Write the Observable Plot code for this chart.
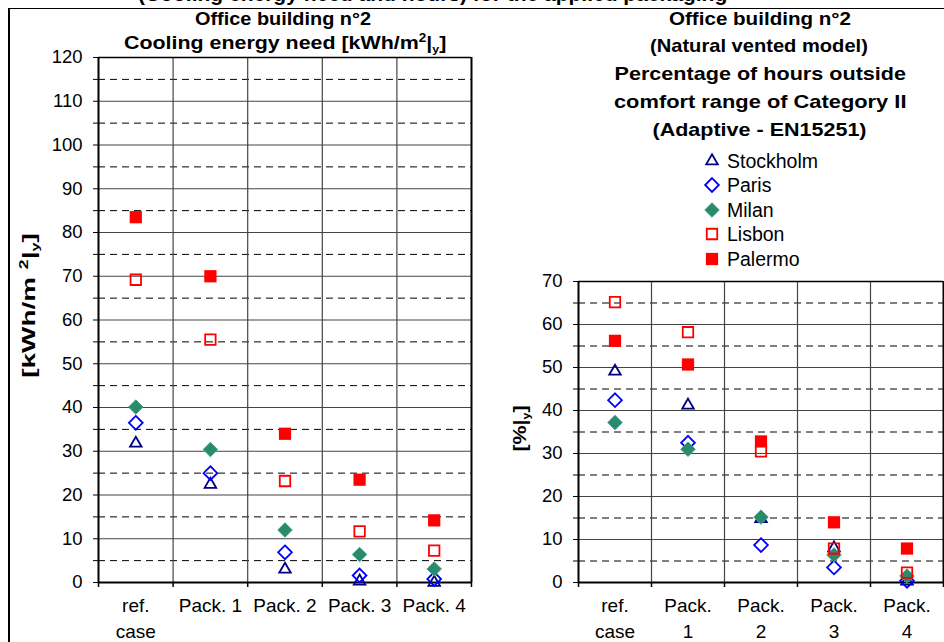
<!DOCTYPE html>
<html><head><meta charset="utf-8">
<script src="https://cdn.jsdelivr.net/npm/d3@7"></script>
<script src="https://cdn.jsdelivr.net/npm/@observablehq/plot@0.6"></script>
<style>
body{margin:0;background:#fff;font-family:"Liberation Sans",Arial,sans-serif;}
#wrap{position:relative;width:944px;height:642px;overflow:hidden;background:#fff;}
.c{position:absolute;white-space:nowrap;line-height:1;color:#000;}
.b{font-weight:bold;font-size:19px;}
sup{font-size:12px;vertical-align:7px;line-height:0;}
sub{font-size:11px;vertical-align:-4px;line-height:0;}
.leg{position:absolute;left:705px;top:0;font-size:19.5px;}
.leg div{position:absolute;height:20px;white-space:nowrap;}
.leg svg{position:absolute;left:0;top:0;overflow:visible;}
.leg span{position:absolute;left:22px;top:0;line-height:20px;}
.clip{position:absolute;left:0;top:0;width:944px;height:8px;overflow:hidden;}
</style></head><body><div id="wrap"></div><script>
// ---- data ----
const categoriesLeft = ["ref.\ncase", "Pack. 1", "Pack. 2", "Pack. 3", "Pack. 4"];
const categoriesRight = ["ref.\ncase", "Pack.\n1", "Pack.\n2", "Pack.\n3", "Pack.\n4"];
const cities = ["Stockholm", "Paris", "Milan", "Lisbon", "Palermo"];
// Cooling energy need [kWh/m2 y]
const coolingStockholm = [31.8, 22.4, 3.0, 0.3, 0.0];
const coolingParis = [36.5, 25.0, 6.9, 1.6, 0.8];
const coolingMilan = [40.1, 30.4, 12.0, 6.4, 3.1];
const coolingLisbon = [69.2, 55.5, 23.2, 11.7, 7.3];
const coolingPalermo = [83.5, 70.0, 34.0, 23.5, 14.2];
// Percentage of hours outside comfort range [%]
const hoursStockholm = [49.1, 41.2, 14.8, 8.0, 0.3];
const hoursParis = [42.4, 32.5, 8.7, 3.5, 0.4];
const hoursMilan = [37.2, 31.0, 15.2, 6.4, 1.5];
const hoursLisbon = [65.2, 58.2, 30.5, 7.9, 2.3];
const hoursPalermo = [56.2, 50.7, 32.8, 14.0, 7.9];
// ticks
const yTicksLeft = [0, 10, 20, 30, 40, 50, 60, 70, 80, 90, 100, 110, 120];
const yTicksRight = [0, 10, 20, 30, 40, 50, 60, 70];

// ---- styles per series ----
const seriesStyle = {
  Stockholm: {symbol: "triangle", r: 4.3, stroke: "#000080", strokeWidth: 1.8, fill: "none"},
  Paris: {symbol: "diamond2", r: 6.2, stroke: "#0000ff", strokeWidth: 1.8, fill: "none"},
  Milan: {symbol: "diamond2", r: 6.5, fill: "#2a8a6e", stroke: "#3f9f7f", strokeWidth: 1},
  Lisbon: {symbol: "square", r: 5.9, stroke: "#ff0000", strokeWidth: 1.8, fill: "none"},
  Palermo: {symbol: "square", r: 6.9, fill: "#ff0000", stroke: "none"}
};
const symMap = {triangle: d3.symbolTriangle, diamond2: d3.symbolDiamond2, square: d3.symbolSquare};

function minorOf(ticks) { return ticks.slice(0, -1).map(t => t + 5); }
function allTicks(ticks) { return ticks.flatMap((t, i) => i < ticks.length - 1 ? [t, t + 5] : [t]); }

function makeChart(cats, seriesVals, yTicks, opts) {
  const yMax = yTicks[yTicks.length - 1];
  const n = cats.length;
  const marks = [
    Plot.ruleY(minorOf(yTicks), {stroke: "#000", strokeDasharray: "7,5", strokeWidth: 1}),
    Plot.ruleY(yTicks.slice(1, -1), {stroke: "#444", strokeWidth: 1.2}),
    Plot.ruleX(d3.range(1, n), {stroke: "#444", strokeWidth: 1.2}),
    Plot.ruleX(d3.range(0, n + 1), {y1: 0, y2: 0, insetBottom: -5, stroke: "#000", strokeWidth: 1.5}),
    Plot.ruleX([0], {stroke: "#000", strokeWidth: 2}),
    Plot.ruleX([n], {stroke: "#000", strokeWidth: 2}),
    Plot.ruleY([0], {stroke: "#000", strokeWidth: 2}),
    Plot.ruleY([yMax], {stroke: "#000", strokeWidth: 1.6}),
    Plot.text(cats, {x: (d, i) => i + 0.5, y: 0, dy: 11, text: d => d, lineAnchor: "top", lineHeight: 1.38, fontSize: 19, fill: "#000"})
  ];
  cities.forEach((c, k) => {
    marks.push(Plot.dot(seriesVals[k], {x: (d, i) => i + 0.5, y: d => d, ...seriesStyle[c]}));
  });
  return Plot.plot({
    width: opts.width, height: 642,
    marginLeft: opts.marginLeft, marginRight: opts.marginRight,
    marginTop: opts.marginTop, marginBottom: 60,
    style: {fontFamily: "Liberation Sans, Arial, sans-serif", fontSize: "18.5px", color: "#000", background: "transparent", overflow: "visible"},
    x: {domain: [0, n], axis: null},
    y: {domain: [0, yMax], ticks: allTicks(yTicks), tickFormat: d => (d % 10 === 0 ? String(d) : ""), tickSize: 5, tickPadding: 11, label: null},
    marks
  });
}

const wrap = document.getElementById("wrap");

const left = makeChart(categoriesLeft,
  [coolingStockholm, coolingParis, coolingMilan, coolingLisbon, coolingPalermo],
  yTicksLeft, {width: 480, marginLeft: 98, marginRight: 9, marginTop: 57});
left.style.position = "absolute"; left.style.left = "0px"; left.style.top = "0px";
wrap.appendChild(left);

const right = makeChart(categoriesRight,
  [hoursStockholm, hoursParis, hoursMilan, hoursLisbon, hoursPalermo],
  yTicksRight, {width: 464, marginLeft: 98, marginRight: 1, marginTop: 281});
right.style.position = "absolute"; right.style.left = "480px"; right.style.top = "0px";
wrap.appendChild(right);

// text placed by centre, stretched to the width it has in the picture
function addText(html, cx, cy, targetW, rotate) {
  const d = document.createElement("div");
  d.className = "c b";
  d.innerHTML = html;
  wrap.appendChild(d);
  const w = d.offsetWidth, h = d.offsetHeight;
  const s = targetW ? targetW / w : 1;
  d.style.left = (cx - w / 2) + "px"; d.style.top = (cy - h / 2) + "px";
  d.style.transformOrigin = "50% 50%";
  d.style.transform = (rotate ? "rotate(-90deg) " : "") + `scaleX(${s})`;
}
// clipped main title (cut off at the top of the picture)
const clip = document.createElement("div");
clip.className = "clip";
clip.innerHTML = '<div style="position:absolute;left:138px;top:-17px;font-weight:bold;font-size:21px;white-space:nowrap;line-height:1;">(Cooling energy need and hours) for the applied packaging</div>';
wrap.appendChild(clip);

addText("Office building n°2", 283, 18, 176);
addText("Cooling energy need [kWh/m<sup>2</sup>|<sub>y</sub>]", 285, 42, 322);
addText("Office building n°2", 760, 18, 182);
addText("(Natural vented model)", 759, 45, 218);
addText("Percentage of hours outside", 760, 73, 292);
addText("comfort range of Category II", 760, 101, 292);
addText("(Adaptive - EN15251)", 759, 129, 214);
addText("[kWh/m <sup>2</sup>|<sub>y</sub>]", 28, 305, 144, true);
addText("[%|<sub>y</sub>]", 519, 428, 46, true);

// legend
const leg = document.createElement("div");
leg.className = "leg";
const legY = [161, 185, 210, 234, 259];
cities.forEach((c, k) => {
  const s = seriesStyle[c];
  const size = s.r * s.r * Math.PI;
  const path = d3.symbol(symMap[s.symbol], size)();
  const row = document.createElement("div");
  row.style.top = (legY[k] - 10) + "px"; row.style.left = "0px";
  row.innerHTML = `<svg width="14" height="20"><path transform="translate(7,10)" d="${path}" fill="${s.fill}" stroke="${s.stroke}" stroke-width="${s.strokeWidth || 0}"></path></svg><span>${c}</span>`;
  leg.appendChild(row);
});
wrap.appendChild(leg);

// outer frame lines
const fr1 = document.createElement("div");
fr1.style.cssText = "position:absolute;left:8px;top:8px;width:936px;height:0;border-top:1.5px solid #000;";
const fr2 = document.createElement("div");
fr2.style.cssText = "position:absolute;left:8px;top:8px;width:0;height:634px;border-left:2px solid #000;";
wrap.appendChild(fr1); wrap.appendChild(fr2);
</script></body></html>
